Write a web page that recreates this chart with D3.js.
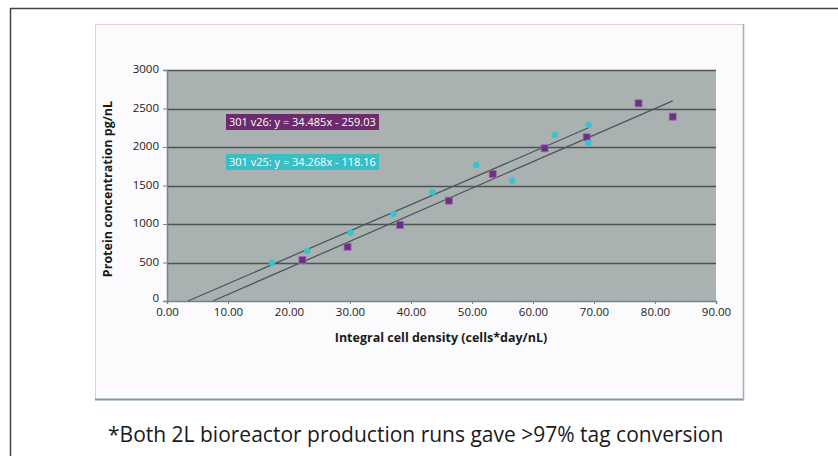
<html>
<head>
<script src="https://cdn.jsdelivr.net/npm/d3@7"></script>
<style>
  body { margin: 0; background: #fff; }
  text { font-family: "Open Sans", sans-serif; }
</style>
</head>
<body>
<svg width="838" height="456"></svg>
<script>
// data
const v25X = [17.2, 23.0, 30.1, 37.1, 43.5, 50.7, 56.6, 63.6, 69.1, 69.1];
const v25Y = [497, 649, 887, 1130, 1412, 1766, 1562, 2156, 2056, 2286];
const v26X = [22.2, 29.6, 38.2, 46.2, 53.4, 61.9, 68.8, 77.3, 82.9];
const v26Y = [532, 705, 987, 1303, 1649, 1983, 2126, 2567, 2394];
const fitNames = ["301 v26: y = 34.485x - 259.03", "301 v25: y = 34.268x - 118.16"];
const fitSlope = [34.485, 34.268];
const fitIntercept = [-259.03, -118.16];
const xTicks = [0, 10, 20, 30, 40, 50, 60, 70, 80, 90];
const yTicks = [0, 500, 1000, 1500, 2000, 2500, 3000];
const caption = "*Both 2L bioreactor production runs gave >97% tag conversion";

const svg = d3.select("svg");

// outer frame
svg.append("path").attr("d", "M10.5,456 L10.5,8.5 L838,8.5")
  .attr("fill", "none").attr("stroke", "#444").attr("stroke-width", 1.5);

// chart box
svg.append("rect").attr("x", 95.5).attr("y", 24.5).attr("width", 648).attr("height", 375)
  .attr("fill", "#fbfbfd").attr("stroke", "#e9cfc8").attr("stroke-width", 1);
svg.append("line").attr("x1", 95).attr("x2", 744).attr("y1", 399.5).attr("y2", 399.5)
  .attr("stroke", "#7f99a6").attr("stroke-width", 2);
svg.append("line").attr("x1", 743.5).attr("x2", 743.5).attr("y1", 24).attr("y2", 400)
  .attr("stroke", "#9fb0b8").attr("stroke-width", 1.5);

const x = d3.scaleLinear().domain([0, 90]).range([167, 716]);
const y = d3.scaleLinear().domain([0, 3000]).range([301, 70]);

// plot area
svg.append("rect").attr("x", x(0)).attr("y", y(3000))
  .attr("width", x(90) - x(0)).attr("height", y(0) - y(3000))
  .attr("fill", "#aab1b1");

// gridlines
svg.append("g").selectAll("line").data(yTicks.filter(d => d > 0)).join("line")
  .attr("x1", x(0)).attr("x2", x(90))
  .attr("y1", d => Math.round(y(d)) + 0.5).attr("y2", d => Math.round(y(d)) + 0.5)
  .attr("stroke", "#4d5252").attr("stroke-width", 1.5);

// axes
const yAxis = svg.append("g").attr("transform", "translate(" + x(0) + ",0)")
  .call(d3.axisLeft(y).tickValues(yTicks).tickSize(4).tickPadding(4).tickFormat(d3.format("d")));
const xAxis = svg.append("g").attr("transform", "translate(0," + y(0) + ")")
  .call(d3.axisBottom(x).tickValues(xTicks).tickSize(3).tickPadding(4).tickFormat(d3.format(".2f")));
[yAxis, xAxis].forEach(a => {
  a.select(".domain").attr("stroke", "#6f8790").attr("stroke-width", 1.5);
  a.selectAll(".tick line").attr("stroke", "#6f8790");
  a.selectAll("text").attr("fill", "#1a1a1a").style("font-size", "11.5px")
    .style("font-family", "'Open Sans', sans-serif");
});
yAxis.selectAll(".tick text").attr("dy", "0.25em");
yAxis.selectAll(".tick text").filter(d => d === 0).attr("dy", "0.05em");

// trend lines: from the zero crossing to the last x of each run
const fitEnd = [d3.max(v26X), d3.max(v25X)];
fitSlope.forEach((m, i) => {
  const x0 = -fitIntercept[i] / m;
  svg.append("line")
    .attr("x1", x(x0)).attr("y1", y(0))
    .attr("x2", x(fitEnd[i])).attr("y2", y(m * fitEnd[i] + fitIntercept[i]))
    .attr("stroke", "#4a5858").attr("stroke-width", 1.3);
});

// points
svg.append("g").selectAll("rect").data(v26X).join("rect")
  .attr("x", (d, i) => x(d) - 3.5).attr("y", (d, i) => y(v26Y[i]) - 3.5)
  .attr("width", 7).attr("height", 7)
  .attr("fill", "#6c2f86").attr("stroke", "#9a6aa8").attr("stroke-width", 0.8);
svg.append("g").selectAll("circle").data(v25X).join("circle")
  .attr("cx", d => x(d)).attr("cy", (d, i) => y(v25Y[i])).attr("r", 3.2)
  .attr("fill", "#38c4cf");

// equation labels
const labelFill = ["#6d2a6c", "#3bbdc6"];
const labelY = [114, 154];
fitNames.forEach((t, i) => {
  svg.append("rect").attr("x", 226).attr("y", labelY[i]).attr("width", 153).attr("height", 16)
    .attr("fill", labelFill[i]);
  svg.append("text").attr("x", 229).attr("y", labelY[i] + 12)
    .attr("fill", "#fff").style("font-size", "11px").text(t);
});

// axis titles
svg.append("text").attr("x", 441).attr("y", 342).attr("text-anchor", "middle")
  .style("font-size", "12.5px").style("font-weight", "bold").attr("fill", "#1a1a1a")
  .text("Integral cell density (cells*day/nL)");
svg.append("text").attr("transform", "translate(112,189) rotate(-90)").attr("text-anchor", "middle")
  .style("font-size", "12.5px").style("font-weight", "bold").attr("fill", "#1a1a1a")
  .text("Protein concentration pg/nL");

// caption
svg.append("text").attr("x", 108).attr("y", 442)
  .style("font-size", "21px").attr("fill", "#1a1a1a").text(caption);
</script>
</body>
</html>
